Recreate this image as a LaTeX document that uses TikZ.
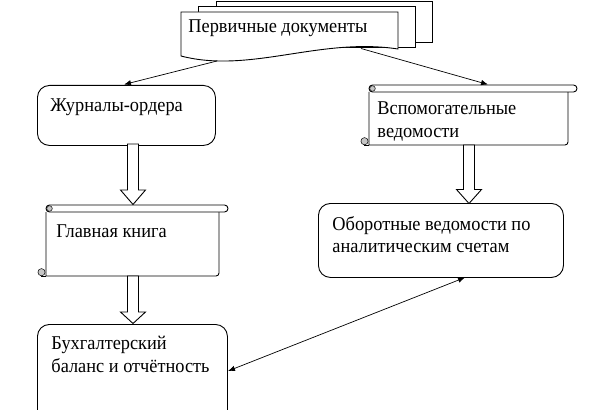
\documentclass[tikz,border=0pt]{standalone}
\usepackage{fontspec}
\setmainfont[FakeStretch=0.94]{Liberation Serif}
\usetikzlibrary{arrows.meta}
\newcommand\myscroll[5]{% #1 body left, #2 top, #3 roll right, #4 body right, #5 bottom
  \draw[fill=white] (#1,#2+7) -- (#1,#5) {[rounded corners=3pt] -- (#4,#5)} -- (#4,#2+7);
  \draw[fill=white, rounded corners=3.5pt] (#1,#2) rectangle (#3,#2+7);
  \draw[fill=gray!45, line width=0.5pt] (#1+3.5,#2+3.5) circle[radius=2.8pt];
  \draw (#1-5,#5) -- (#1,#5);
  \draw[fill=gray!45, line width=0.5pt] (#1-4.5,#5-3.8) circle[radius=3.6pt];
}
\newcommand\blockarrow[4]{% #1 centre x, #2 top, #3 tip, #4 head length
  \draw[blk] (#1-5.5,#2) -- (#1-5.5,#3-#4) -- (#1-12.5,#3-#4) -- (#1,#3)
    -- (#1+12.5,#3-#4) -- (#1+5.5,#3-#4) -- (#1+5.5,#2) -- cycle;
}
\begin{document}
\begin{tikzpicture}[x=1pt,y=-1pt, line width=0.9pt,
  rbox/.style={draw, rounded corners=12pt, fill=white, inner sep=0pt, anchor=north west},
  lbl/.style={inner sep=0pt, anchor=base west, font=\fontsize{19.5}{23}\selectfont},
  conn/.style={line width=0.7pt, -{Latex[length=7pt,width=5.5pt]}},
  conn2/.style={line width=0.7pt, {Latex[length=7pt,width=5.5pt]}-{Latex[length=7pt,width=5.5pt]}},
  blk/.style={draw, fill=white, line width=0.9pt, line join=miter}]
\useasboundingbox (0,0) rectangle (612,409);
\clip (0,0) rectangle (612,409);

% stack of primary documents
\draw[fill=white] (216,1) -- (432,1) -- (432,42) -- (216,42) -- cycle;
\draw[fill=white] (198,6) -- (415,6) -- (415,47) -- (198,47) -- cycle;
\draw[fill=white] (181,12) -- (398,12) -- (398,49) .. controls (320,37) and (250,74) .. (181,56) -- cycle;
\node[lbl] (tpd) at (188,33) {Первичные документы};

% boxes
\node[rbox, minimum width=178pt, minimum height=60pt] (jo) at (37,85) {};
\node[lbl] (tjo) at (50,111) {Журналы-ордера};

\myscroll{369}{85}{577}{568}{145}
\node[lbl] (tvs1) at (377,114) {Вспомогательные};
\node[lbl] (tvs2) at (377,137) {ведомости};

\myscroll{46}{205}{228}{219}{276}
\node[lbl] (tgk) at (56,237) {Главная книга};

\node[rbox, minimum width=245pt, minimum height=74pt] (ob) at (318,203) {};
\node[lbl] (tob1) at (332,230) {Оборотные ведомости по};
\node[lbl] (tob2) at (332,252) {аналитическим счетам};

\node[rbox, minimum width=190pt, minimum height=110pt] (bb) at (37,324) {};
\node[lbl] (tbb1) at (51,349) {Бухгалтерский};
\node[lbl] (tbb2) at (51,372) {баланс и отчётность};

% block arrows
\blockarrow{133}{144}{204.5}{14.5}
\blockarrow{133}{276}{323.5}{11.5}
\blockarrow{469}{145}{203.5}{14}

% connectors
\coordinate (pdL) at (217,61);
\coordinate (joT) at (124,84.5);
\coordinate (pdR) at (361,48.5);
\coordinate (vsT) at (488,84.5);
\coordinate (obB) at (465,277.5);
\coordinate (bbR) at (228,371);
\draw[conn] (pdL) -- (joT);
\draw[conn] (pdR) -- (vsT);
\draw[conn2] (bbR) -- (obB);
\end{tikzpicture}
\end{document}
